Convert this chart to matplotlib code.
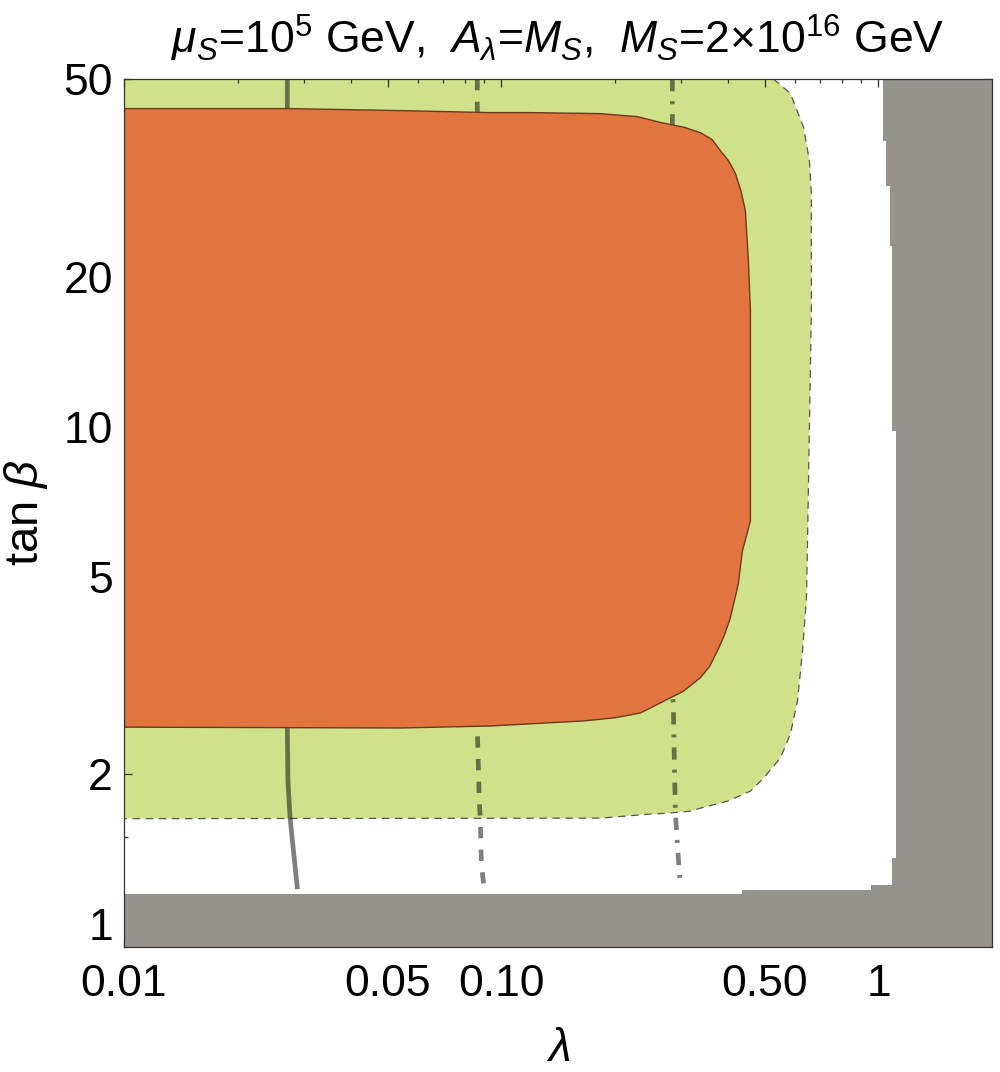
import numpy as np
import matplotlib
matplotlib.use("Agg")
import matplotlib.pyplot as plt
from matplotlib.ticker import FixedLocator, FixedFormatter, NullFormatter

plt.rcParams['font.family'] = ['Liberation Sans', 'DejaVu Sans']
plt.rcParams['mathtext.fontset'] = 'custom'
plt.rcParams['mathtext.rm'] = 'Liberation Sans'
plt.rcParams['mathtext.it'] = 'Liberation Sans:italic'
plt.rcParams['mathtext.bf'] = 'Liberation Sans:bold'

# excluded region (grey), bottom band + right band
gray_lam = [0.01, 0.01, 0.436, 0.436, 0.958, 0.958, 1.089, 1.089, 1.11, 1.11,
            1.089, 1.089, 1.07, 1.07, 1.05, 1.05, 1.031, 1.031, 2.0, 2.0]
gray_tb = [0.9, 1.149, 1.149, 1.171, 1.171, 1.198, 1.198, 1.358, 1.358, 9.8,
           9.8, 23.1, 23.1, 30.5, 30.5, 37.6, 37.6, 50.0, 50.0, 0.9]

# green region boundary (right/bottom edge, from top to left)
green_lam = [0.527, 0.584, 0.633, 0.656, 0.664, 0.664, 0.648, 0.644, 0.629, 0.610,
             0.584, 0.550, 0.496, 0.458, 0.398, 0.337, 0.317, 0.276, 0.2485, 0.183, 0.01]
green_tb = [50.0, 46.8, 40.0, 34.3, 29.4, 17.1, 5.63, 4.47, 3.54, 2.81,
            2.41, 2.16, 1.967, 1.852, 1.768, 1.711, 1.688, 1.672, 1.665, 1.634, 1.63]

# orange region boundary (from top-left, clockwise, to bottom-left)
orange_lam = [0.01, 0.02756, 0.054, 0.0935, 0.1194, 0.1831, 0.2300, 0.2641, 0.3050, 0.3373,
              0.362, 0.381, 0.401, 0.4176, 0.432, 0.4438, 0.4521, 0.4577, 0.4577, 0.4460,
              0.4358, 0.4251, 0.405, 0.390, 0.374, 0.357, 0.3373, 0.304, 0.2641, 0.2337,
              0.200, 0.165, 0.0935, 0.054, 0.01]
orange_tb = [43.6, 43.6, 43.2, 42.8, 42.8, 42.6, 42.0, 40.9, 40.0, 39.0,
             37.8, 35.9, 34.2, 32.3, 29.8, 27.2, 21.6, 17.1, 6.47, 6.0,
             5.63, 4.83, 4.13, 3.80, 3.54, 3.30, 3.13, 2.94, 2.785, 2.658,
             2.60, 2.562, 2.503, 2.48, 2.49]

# contour lines
solid_lam = [0.0271, 0.0271, 0.0272, 0.02756, 0.02809, 0.02883]
solid_tb = [50.0, 2.48, 1.94, 1.634, 1.422, 1.176]
dashed_lam = [0.0864, 0.0864, 0.0869, 0.0874, 0.0880, 0.0883, 0.0886, 0.0903]
dashed_tb = [50.0, 2.48, 2.13, 1.79, 1.63, 1.47, 1.32, 1.165]
dashdot_lam = [0.2842, 0.2842, 0.2859, 0.2877, 0.2894, 0.2930, 0.2984]
dashdot_tb = [50.0, 2.9, 2.77, 2.13, 1.69, 1.45, 1.19]

xticks = [0.01, 0.05, 0.1, 0.5, 1]
xticklabels = ['0.01', '0.05', '0.10', '0.50', '1']
xminor = [0.02, 0.03, 0.04, 0.06, 0.07, 0.08, 0.09, 0.2, 0.3, 0.4, 0.6, 0.7, 0.8, 0.9]
yticks = [1, 2, 5, 10, 20, 50]
yticklabels = ['1', '2', '5', '10', '20', '50']
yminor = [1.5, 3, 4, 6, 7, 8, 9, 15, 30, 40]

fig = plt.figure(figsize=(10, 10.72), dpi=100)
ax = fig.add_axes([0.124, 0.1166, 0.868, 0.8097])
ax.set_xscale('log')
ax.set_yscale('log')

# green
ax.fill(green_lam + [0.01], green_tb + [50.0], color='#cfe28b', lw=0, zorder=1)
ax.plot(green_lam, green_tb, color='#555555', lw=0.9, ls=(0, (6, 4.5)), zorder=1.5)

# lines (under the orange region)
lc = (0, 0, 0, 0.5)
ax.plot(solid_lam, solid_tb, color=lc, lw=3.4, zorder=2, solid_capstyle='butt')
ax.plot(dashed_lam, dashed_tb, color=lc, lw=3.4, ls=(0, (2.4, 2.4)), zorder=2)
ax.plot(dashdot_lam, dashdot_tb, color=lc, lw=3.4, ls=(0, (2.6, 2.1, 0.65, 2.1)), zorder=2)

# orange
ax.fill(orange_lam, orange_tb, color='#e1743f', lw=0, zorder=3)
ax.plot(orange_lam, orange_tb, color='#6a3a1e', lw=1.0, zorder=3.5)

# grey
ax.fill(gray_lam, gray_tb, color='#96928e', lw=0, zorder=4)

ax.set_xlim(0.01, 2.0)
ax.set_ylim(0.9, 50)

ax.xaxis.set_major_locator(FixedLocator(xticks))
ax.xaxis.set_major_formatter(FixedFormatter(xticklabels))
ax.xaxis.set_minor_locator(FixedLocator(xminor))
ax.xaxis.set_minor_formatter(NullFormatter())
ax.yaxis.set_major_locator(FixedLocator(yticks))
ax.yaxis.set_major_formatter(FixedFormatter(yticklabels))
ax.yaxis.set_minor_locator(FixedLocator(yminor))
ax.yaxis.set_minor_formatter(NullFormatter())

ax.tick_params(which='both', direction='in', top=True, right=True, color='#333333', width=0.9)
ax.tick_params(which='major', length=6, labelsize=32)
ax.tick_params(which='minor', length=3)
ax.tick_params(axis='x', which='major', pad=12)
ax.tick_params(axis='y', which='major', pad=8)
for sp in ax.spines.values():
    sp.set_color('#333333')
    sp.set_linewidth(0.9)
    sp.set_zorder(5)
ax.set_axisbelow(False)

ax.set_xlabel(r'$\lambda$', fontsize=33, labelpad=16)
ax.set_ylabel(r'tan $\beta$', fontsize=34, labelpad=10)
ax.set_title(r'$\mu_S$=10$^5$ GeV,  $A_\lambda$=$M_S$,  $M_S$=2×10$^{16}$ GeV',
             fontsize=32, pad=18)

fig.savefig('out.png', dpi=100)
